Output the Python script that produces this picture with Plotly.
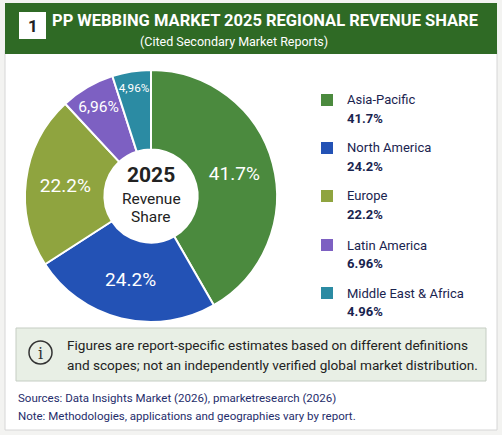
import plotly.graph_objects as go

W, H = 502, 435

regions = ["Asia-Pacific", "North America", "Europe", "Latin America", "Middle East & Africa"]
shares = [41.7, 24.2, 22.2, 6.96, 4.96]
slice_text = ["41.7%", "24.2%", "22.2%", "6,96%", "4,96%"]
legend_text = ["41.7%", "24.2%", "22.2%", "6.96%", "4.96%"]
colors = ["#4b8a3e", "#2352b5", "#8fa43f", "#7d60c2", "#2b8ba3"]

fig = go.Figure()

cx, cy, r = 151, 196, 126
fig.add_trace(go.Pie(
    labels=regions, values=shares, text=slice_text,
    textinfo="text", textposition="inside", insidetextorientation="horizontal",
    textfont=dict(color="white", size=19, family="Roboto"),
    marker=dict(colors=colors, line=dict(color="white", width=2)),
    hole=0.37, sort=False, direction="clockwise", rotation=0,
    domain=dict(x=[(cx - r) / W, (cx + r) / W], y=[(H - cy - r) / H, (H - cy + r) / H]),
    showlegend=False, hoverinfo="label+value",
))

shapes = []
ann = []


def rect(x0, y0, x1, y1, **kw):
    shapes.append(dict(type="rect", xref="paper", yref="paper",
                       x0=x0/W, x1=x1/W, y0=1-y1/H, y1=1-y0/H, **kw))


def text(x, y, t, size, color, xanchor="center", family="Roboto"):
    ann.append(dict(xref="paper", yref="paper", x=x/W, y=1-y/H, text=t, xanchor=xanchor,
                    yanchor="middle", align="left", showarrow=False,
                    font=dict(size=size, color=color, family=family)))


# card and header
rect(5, 50, 497, 430, fillcolor="white", line=dict(color="#d6d6d6", width=1), layer="below")
rect(5, 3, 497, 54, fillcolor="#2f6a25", line=dict(width=0), layer="below")
rect(19, 12, 46, 39, fillcolor="white", line=dict(width=0))
text(32.5, 26, "<b>1</b>", 17, "#222")
text(265, 21, "<b>PP WEBBING MARKET 2025 REGIONAL REVENUE SHARE</b>", 16.5, "white")
text(234, 42, "(Cited Secondary Market Reports)", 12.5, "white")

# centre label
text(cx, 175, "<b>2025</b>", 21, "#222")
text(cx, 199, "Revenue", 15.5, "#222")
text(cx, 217, "Share", 15.5, "#222")

# legend
ly = [100, 148, 196, 245, 293]
for name, val, col, y in zip(regions, legend_text, colors, ly):
    rect(321, y - 6, 333, y + 6, fillcolor=col, line=dict(width=0))
    text(345, y, name, 13, "#1a244f", xanchor="left")
    text(345, y + 18, f"<b>{val}</b>", 13, "#1a244f", xanchor="left")

# note box
rect(16, 328, 486, 381, fillcolor="#e8efe5", line=dict(color="#c5cdc3", width=1))
shapes.append(dict(type="circle", xref="paper", yref="paper", x0=29/W, x1=52/W, y0=1-364/H, y1=1-341/H,
                   line=dict(color="#333", width=1.5)))
text(40.5, 353, "i", 16, "#333", family="DejaVu Serif")
text(65, 345, "Figures are report-specific estimates based on different definitions", 13.6, "#222", xanchor="left")
text(65, 365, "and scopes; not an independently verified global market distribution.", 13.6, "#222", xanchor="left")
text(16, 398, "Sources: Data Insights Market (2026), pmarketresearch (2026)", 11.5, "#1f2d6b", xanchor="left")
text(16, 416, "Note: Methodologies, applications and geographies vary by report.", 11.5, "#1f2d6b", xanchor="left")

fig.update_layout(width=W, height=H, margin=dict(l=0, r=0, t=0, b=0),
                  paper_bgcolor="#f3f3f1", plot_bgcolor="#f3f3f1",
                  shapes=shapes, annotations=ann)
fig.write_html("out.html", config={"displayModeBar": False},
               post_script="document.body.style.margin='0';")
